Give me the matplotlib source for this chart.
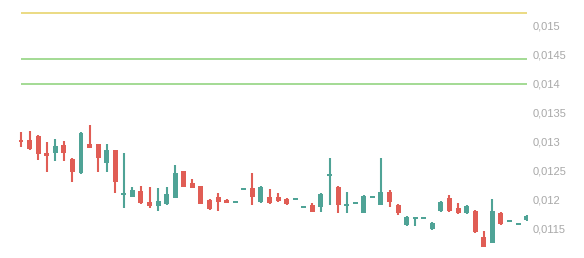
import numpy as np
import matplotlib
matplotlib.use("Agg")
import matplotlib.pyplot as plt
from matplotlib.ticker import FuncFormatter

# OHLC values
opens = [0.013040, 0.013023, 0.013092, 0.012798, 0.012798, 0.012936, 0.012694, 0.012452, 0.012954, 0.012954,
         0.012625, 0.012850, 0.012089, 0.012037, 0.012141, 0.011950, 0.011881, 0.011916, 0.012020, 0.012487,
         0.012279, 0.012227, 0.011985, 0.012037, 0.011985, 0.011950, 0.012175, 0.012193, 0.011950, 0.012037,
         0.012037, 0.012002, 0.012002, 0.011864, 0.011899, 0.011864, 0.012418, 0.012210, 0.011899, 0.011933,
         0.011760, 0.012037, 0.011899, 0.012123, 0.011899, 0.011553, 0.011674, 0.011674, 0.011483, 0.011795,
         0.012020, 0.011847, 0.011760, 0.011795, 0.011345, 0.011241, 0.011760, 0.011622, 0.011570, 0.011639]
highs = [0.013161, 0.013179, 0.013110, 0.012988, 0.013040, 0.013006, 0.012712, 0.013161, 0.013283, 0.012954,
         0.012954, 0.012850, 0.012798, 0.012210, 0.012227, 0.012210, 0.012193, 0.012210, 0.012590, 0.012487,
         0.012348, 0.012227, 0.012002, 0.012106, 0.012002, 0.011950, 0.012175, 0.012452, 0.012227, 0.012175,
         0.012106, 0.012020, 0.012002, 0.011864, 0.011933, 0.012106, 0.012712, 0.012227, 0.012123, 0.011933,
         0.012072, 0.012037, 0.012712, 0.012158, 0.011916, 0.011708, 0.011691, 0.011674, 0.011604, 0.011968,
         0.012072, 0.011933, 0.011899, 0.011812, 0.011449, 0.012002, 0.011777, 0.011622, 0.011570, 0.011726]
lows = [0.012902, 0.012850, 0.012677, 0.012469, 0.012660, 0.012660, 0.012296, 0.012440, 0.012880, 0.012469,
        0.012469, 0.012106, 0.011847, 0.012037, 0.011916, 0.011847, 0.011795, 0.011899, 0.012020, 0.012210,
        0.012193, 0.011916, 0.011820, 0.011795, 0.011925, 0.011950, 0.012175, 0.011899, 0.011933, 0.011916,
        0.011950, 0.011899, 0.012002, 0.011864, 0.011770, 0.011777, 0.011899, 0.011760, 0.011760, 0.011933,
        0.011760, 0.012037, 0.011899, 0.011864, 0.011726, 0.011535, 0.011535, 0.011674, 0.011466, 0.011777,
        0.011777, 0.011743, 0.011743, 0.011414, 0.011163, 0.011233, 0.011560, 0.011622, 0.011570, 0.011622]
closes = [0.013006, 0.012867, 0.012781, 0.012746, 0.012919, 0.012798, 0.012469, 0.013144, 0.012885, 0.012712,
          0.012850, 0.012296, 0.012123, 0.012158, 0.011933, 0.011881, 0.011968, 0.012089, 0.012452, 0.012210,
          0.012193, 0.011916, 0.011829, 0.011950, 0.011933, 0.011950, 0.012175, 0.012037, 0.012210, 0.011933,
          0.011968, 0.011916, 0.012002, 0.011864, 0.011777, 0.012089, 0.012452, 0.011899, 0.011933, 0.011933,
          0.012054, 0.012037, 0.012123, 0.011950, 0.011760, 0.011691, 0.011691, 0.011674, 0.011587, 0.011950,
          0.011795, 0.011760, 0.011881, 0.011431, 0.011172, 0.011795, 0.011570, 0.011622, 0.011570, 0.011708]

levels = [0.01522, 0.01442, 0.01400]
level_colors = ["#e8d46e", "#94d482", "#94d482"]

yticks = [0.0115, 0.012, 0.0125, 0.013, 0.0135, 0.014, 0.0145, 0.015]

UP = "#4fa396"
DOWN = "#e05d55"

o = np.array(opens)
h = np.array(highs)
l = np.array(lows)
c = np.array(closes)
x = np.arange(len(o))

fig = plt.figure(figsize=(5.84, 2.58), dpi=100)
ax = fig.add_axes([0, 0, 528 / 584, 1])

ymin, ymax = 0.010981, 0.015445
ax.set_ylim(ymin, ymax)
ax.set_xlim(-2.45, 59.16)

for lv, col in zip(levels, level_colors):
    ax.hlines(lv, x[0], x[-1], color=col, linewidth=1.2, zorder=1)

colors = np.where(c >= o, UP, DOWN)
px = (ymax - ymin) / 258.0
body_h = np.maximum(np.abs(c - o), 2 * px)
body_b = np.minimum(o, c) - np.where(np.abs(c - o) < 2 * px, px, 0)

ax.vlines(x, l, h, colors=colors, linewidth=1.5, zorder=2)
ax.bar(x, body_h, bottom=body_b, width=0.58, color=colors, zorder=3, linewidth=0)

ax.yaxis.tick_right()
ax.set_yticks(yticks)
ax.yaxis.set_major_formatter(FuncFormatter(lambda v, p: f"{v:.4f}".rstrip("0").replace(".", ",")))
ax.tick_params(axis="y", length=0, pad=3, labelsize=8, labelcolor="#a8a8a8")
for t in ax.get_yticklabels():
    t.set_fontfamily("Liberation Sans")
ax.set_xticks([])
for s in ax.spines.values():
    s.set_visible(False)

fig.savefig("out.png", dpi=100)
